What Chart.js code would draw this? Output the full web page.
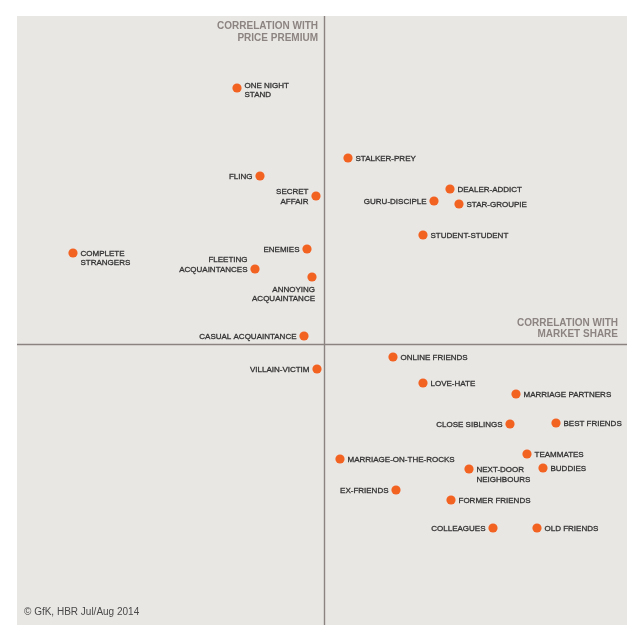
<!DOCTYPE html>
<html>
<head>
<meta charset="utf-8">
<script src="https://cdn.jsdelivr.net/npm/chart.js@4/dist/chart.umd.min.js"></script>
<style>
  html, body { margin: 0; padding: 0; background: #ffffff; }
  #wrap { width: 640px; height: 640px; }
</style>
</head>
<body>
<div id="wrap"><canvas id="c" width="640" height="640"></canvas></div>
<script>
// Relationship types (categories)
const names = [
  "ONE NIGHT\nSTAND", "FLING", "SECRET\nAFFAIR", "COMPLETE\nSTRANGERS", "ENEMIES",
  "FLEETING\nACQUAINTANCES", "ANNOYING\nACQUAINTANCE", "CASUAL ACQUAINTANCE",
  "STALKER-PREY", "DEALER-ADDICT", "GURU-DISCIPLE", "STAR-GROUPIE", "STUDENT-STUDENT",
  "VILLAIN-VICTIM", "ONLINE FRIENDS", "LOVE-HATE", "MARRIAGE PARTNERS", "CLOSE SIBLINGS",
  "BEST FRIENDS", "TEAMMATES", "MARRIAGE-ON-THE-ROCKS", "NEXT-DOOR\nNEIGHBOURS", "BUDDIES",
  "EX-FRIENDS", "FORMER FRIENDS", "COLLEAGUES", "OLD FRIENDS"
];
// Correlation with market share (x)
const marketShare = [
  -0.175, -0.129, -0.017, -0.503, -0.035,
  -0.139, -0.025, -0.041,
  0.047, 0.251, 0.219, 0.269, 0.197,
  -0.015, 0.137, 0.197, 0.383, 0.371,
  0.463, 0.405, 0.031, 0.289, 0.437,
  0.143, 0.253, 0.337, 0.425
];
// Correlation with price premium (y)
const pricePremium = [
  0.513, 0.337, 0.297, 0.183, 0.191,
  0.151, 0.135, 0.017,
  0.373, 0.311, 0.287, 0.281, 0.219,
  -0.049, -0.025, -0.077, -0.099, -0.159,
  -0.157, -0.219, -0.229, -0.249, -0.247,
  -0.291, -0.311, -0.367, -0.367
];
const axisTitles = {
  y: ["CORRELATION WITH", "PRICE PREMIUM"],
  x: ["CORRELATION WITH", "MARKET SHARE"]
};
const sourceNote = "\u00A9 GfK, HBR Jul/Aug 2014";

// Label placement (layout only): side of the dot and vertical offset of first line
const labelSide = [
  "r", "l", "l", "r", "l",
  "l", "b", "l",
  "r", "r", "l", "r", "r",
  "l", "r", "r", "r", "l",
  "r", "r", "r", "r", "r",
  "l", "r", "l", "r"
];
const labelDy = [
  -3, 0, -4.5, 0, 0,
  -9.5, 0, 0,
  0, 0, 0, 0, 0,
  0, 0, 0, 0, 0,
  0, 0, 0, 0.5, 0,
  0, 0, 0, 0
];

const points = marketShare.map((x, i) => ({ x: x, y: pricePremium[i] }));
const FONT = "'Liberation Sans', Arial, Helvetica, sans-serif";

const decor = {
  id: "decor",
  beforeDraw(chart) {
    const { ctx, chartArea: a } = chart;
    ctx.save();
    ctx.fillStyle = "#e9e7e4";
    ctx.fillRect(a.left, a.top, a.right - a.left, a.bottom - a.top);
    const x0 = chart.scales.x.getPixelForValue(0);
    const y0 = chart.scales.y.getPixelForValue(0);
    ctx.strokeStyle = "#8a8380";
    ctx.lineWidth = 1.4;
    ctx.beginPath();
    ctx.moveTo(x0, a.top); ctx.lineTo(x0, a.bottom);
    ctx.moveTo(a.left, y0); ctx.lineTo(a.right, y0);
    ctx.stroke();
    // axis titles
    ctx.fillStyle = "#8c8481";
    ctx.font = "bold 10px " + FONT;
    ctx.textAlign = "right";
    ctx.textBaseline = "middle";
    ctx.fillText(axisTitles.y[0], x0 - 6.5, a.top + 10);
    ctx.fillText(axisTitles.y[1], x0 - 6.5, a.top + 22);
    ctx.fillText(axisTitles.x[0], a.right - 9, y0 - 21.5);
    ctx.fillText(axisTitles.x[1], a.right - 9, y0 - 10.5);
    // source
    ctx.fillStyle = "#4a4a4a";
    ctx.font = "10px " + FONT;
    ctx.textAlign = "left";
    ctx.fillText(sourceNote, a.left + 7, a.bottom - 13);
    ctx.restore();
  },
  afterDatasetsDraw(chart) {
    const { ctx } = chart;
    const meta = chart.getDatasetMeta(0);
    ctx.save();
    ctx.fillStyle = "#333333";
    ctx.strokeStyle = "#333333";
    ctx.lineWidth = 0.3;
    ctx.font = "8px " + FONT;
    ctx.textBaseline = "middle";
    meta.data.forEach((el, i) => {
      const lines = names[i].split("\n");
      const side = labelSide[i];
      const lh = 9.3;
      let tx, ty;
      if (side === "r") { ctx.textAlign = "left"; tx = el.x + 7.5; ty = el.y + 0.5 + labelDy[i]; }
      else if (side === "l") { ctx.textAlign = "right"; tx = el.x - 7.5; ty = el.y + 0.5 + labelDy[i]; }
      else { ctx.textAlign = "right"; tx = el.x + 3; ty = el.y + 12.5 + labelDy[i]; }
      lines.forEach((ln, k) => {
        ctx.fillText(ln, tx, ty + k * lh);
        ctx.strokeText(ln, tx, ty + k * lh);
      });
    });
    ctx.restore();
  }
};

new Chart(document.getElementById("c"), {
  type: "scatter",
  data: {
    datasets: [{
      label: "Relationships",
      data: points,
      backgroundColor: "#f26322",
      borderColor: "#f26322",
      borderWidth: 0,
      pointRadius: 4.6,
      pointHoverRadius: 4.6
    }]
  },
  options: {
    responsive: false,
    animation: false,
    devicePixelRatio: 1,
    layout: { padding: { left: 17, top: 16, right: 13, bottom: 15 } },
    plugins: { legend: { display: false }, tooltip: { enabled: false } },
    scales: {
      x: { type: "linear", min: -0.615, max: 0.605, display: false },
      y: { type: "linear", min: -0.561, max: 0.657, display: false }
    }
  },
  plugins: [decor]
});
</script>
</body>
</html>
